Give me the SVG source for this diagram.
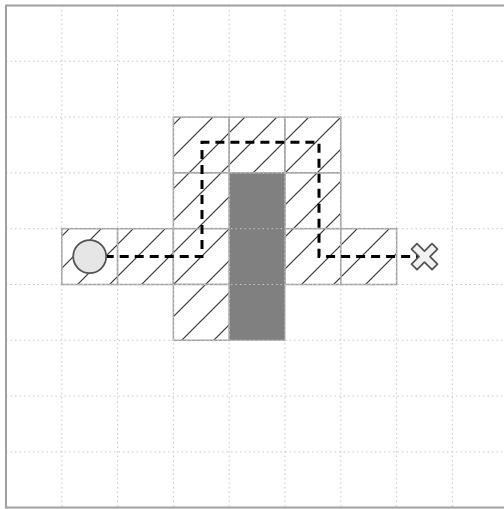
<svg xmlns="http://www.w3.org/2000/svg" width="504" height="509" viewBox="0 0 504 509">
  <style>
    .grid { stroke: #c8c8c8; stroke-width: 1; stroke-dasharray: 1.5 3; fill: none; }
    .free { fill: url(#hatch); stroke: #a0a0a0; stroke-width: 1.5; }
    .wall { fill: #808080; stroke: #a8a8a8; stroke-width: 1; }
    .route { fill: none; stroke: #000; stroke-width: 3; stroke-dasharray: 9 6; }
  </style>
  <defs>
    <pattern id="hatch" patternUnits="userSpaceOnUse" x="10" y="0" width="32" height="32">
      <rect width="32" height="32" fill="#fff"/>
      <path d="M-8,8 L8,-8 M0,32 L32,0 M24,40 L40,24" stroke="#333" stroke-width="1.2"/>
    </pattern>
  </defs>
  <rect x="0" y="0" width="504" height="509" fill="#fff"/>
  <g id="cells">
    <rect class="free" x="173.4" y="117.1" width="55.8" height="55.8"/>
    <rect class="free" x="229.2" y="117.1" width="55.8" height="55.8"/>
    <rect class="free" x="285" y="117.1" width="55.8" height="55.8"/>
    <rect class="free" x="173.4" y="172.9" width="55.8" height="55.8"/>
    <rect class="free" x="285" y="172.9" width="55.8" height="55.8"/>
    <rect class="free" x="61.8" y="228.7" width="55.8" height="55.8"/>
    <rect class="free" x="117.6" y="228.7" width="55.8" height="55.8"/>
    <rect class="free" x="173.4" y="228.7" width="55.8" height="55.8"/>
    <rect class="free" x="285" y="228.7" width="55.8" height="55.8"/>
    <rect class="free" x="340.8" y="228.7" width="55.8" height="55.8"/>
    <rect class="free" x="173.4" y="284.5" width="55.8" height="55.8"/>
  </g>
  <g id="obstacle">
    <rect class="wall" x="229.2" y="172.9" width="55.8" height="167.4"/>
  </g>
  <g id="gridlines">
    <path class="grid" d="M61.8,5.5V508 M117.6,5.5V508 M173.4,5.5V508 M229.2,5.5V508 M285,5.5V508 M340.8,5.5V508 M396.6,5.5V508 M452.4,5.5V508
      M6,61.3H504 M6,117.1H504 M6,172.9H504 M6,228.7H504 M6,284.5H504 M6,340.3H504 M6,396.1H504 M6,451.9H504"/>
  </g>
  <rect id="frame" x="6" y="5.5" width="510" height="502" fill="none" stroke="#a0a0a0" stroke-width="2"/>
  <g id="connectors">
    <path class="route" d="M89.7,256.6 H202 V142.3 H319 V256.6 H424.5"/>
  </g>
  <g id="start">
    <circle cx="89.7" cy="256.6" r="16.5" fill="#e6e6e6" stroke="#555" stroke-width="1.8"/>
  </g>
  <g id="goal">
    <polygon transform="translate(424.5,256.6)" points="-13,-7.5 -7.5,-13 0,-5.5 7.5,-13 13,-7.5 5.5,0 13,7.5 7.5,13 0,5.5 -7.5,13 -13,7.5 -5.5,0" fill="#f2f2f2" stroke="#555" stroke-width="1.8" stroke-linejoin="round"/>
  </g>
</svg>
